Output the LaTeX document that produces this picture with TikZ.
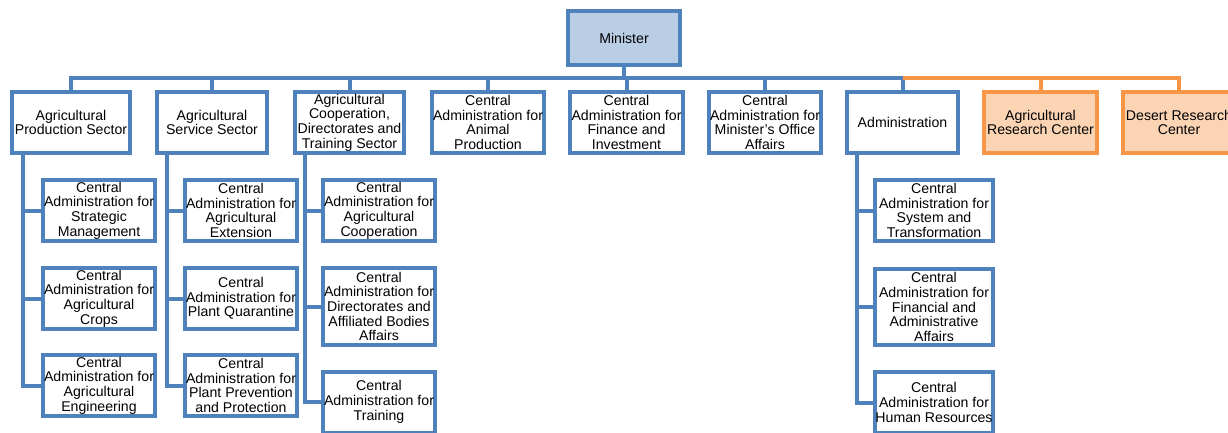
\documentclass[tikz,border=0pt]{standalone}
\usepackage{fontspec}
\setmainfont{Liberation Sans}
\definecolor{orgblue}{RGB}{79,129,189}
\definecolor{orgfill}{RGB}{185,205,229}
\definecolor{orgorange}{RGB}{247,150,70}
\definecolor{orgpeach}{RGB}{251,212,180}
\tikzset{
  unit/.style={draw=orgblue, line width=3pt, fill=white, align=center, inner sep=0pt,
    font=\fontsize{10.6}{11}\selectfont, minimum height=45.75pt},
  subunit/.style={unit, minimum width=84pt},
  center/.style={unit, draw=orgorange, fill=orgpeach},
  link/.style={draw=orgblue, line width=3pt},
  orangelink/.style={draw=orgorange, line width=3pt}
}
\begin{document}
\begin{tikzpicture}[x=0.75pt,y=-0.75pt]
\useasboundingbox (0,0) rectangle (1228,432);

\node[unit, fill=orgfill, minimum width=84pt, minimum height=40.5pt] (minister) at (624,38) {Minister};

\node[unit, minimum width=88.5pt] (prod) at (71,122.5) {Agricultural\\Production Sector};
\node[unit, minimum width=82.5pt] (serv) at (212,122.5) {Agricultural\\Service Sector};
\node[unit, minimum width=81.75pt] (coop) at (349.5,122.5) {Agricultural\\Cooperation,\\Directorates and\\Training Sector};
\node[unit, minimum width=84pt] (animal) at (488,122.5) {Central\\Administration for\\Animal\\Production};
\node[unit, minimum width=84.75pt] (finance) at (626.5,122.5) {Central\\Administration for\\Finance and\\Investment};
\node[unit, minimum width=84pt] (office) at (765,122.5) {Central\\Administration for\\Minister's Office\\Affairs};
\node[unit, minimum width=83.25pt] (admin) at (902.5,122.5) {Administration};
\node[center, minimum width=84.75pt] (arc) at (1040.5,122.5) {Agricultural\\Research Center};
\node[center, minimum width=84pt] (desert) at (1179,122.5) {Desert Research\\Center};

\node[subunit] (strat) at (99,210.5) {Central\\Administration for\\Strategic\\Management};
\node[subunit] (crops) at (99,298.5) {Central\\Administration for\\Agricultural\\Crops};
\node[subunit] (engin) at (99,385.5) {Central\\Administration for\\Agricultural\\Engineering};

\node[subunit] (ext) at (241,210.5) {Central\\Administration for\\Agricultural\\Extension};
\node[subunit] (quar) at (241,298.5) {Central\\Administration for\\Plant Quarantine};
\node[subunit] (prot) at (241,385.5) {Central\\Administration for\\Plant Prevention\\and Protection};

\node[subunit] (agcoop) at (379,210.5) {Central\\Administration for\\Agricultural\\Cooperation};
\node[subunit, minimum height=57.75pt] (direct) at (379,306.5) {Central\\Administration for\\Directorates and\\Affiliated Bodies\\Affairs};
\node[subunit] (train) at (379,402) {Central\\Administration for\\Training};

\node[subunit, minimum width=88.5pt] (system) at (934,210.5) {Central\\Administration for\\System and\\Transformation};
\node[subunit, minimum width=88.5pt, minimum height=57pt] (finadm) at (934,307) {Central\\Administration for\\Financial and\\Administrative\\Affairs};
\node[subunit, minimum width=88.5pt] (human) at (934,402.5) {Central\\Administration for\\Human Resources};

\coordinate (bus) at (624,78);
\draw[link] (minister.south) -- (bus);
\draw[link] (prod.north) |- (bus) -| (admin.north);
\draw[link] (serv.north) -- (serv.north |- bus);
\draw[link] (coop.north) -- (coop.north |- bus);
\draw[link] (animal.north) -- (animal.north |- bus);
\draw[link] (finance.north) -- (finance.north |- bus);
\draw[link] (office.north) -- (office.north |- bus);
\draw[orangelink] (admin.north |- bus) -| (desert.north);
\draw[orangelink] (arc.north) -- (arc.north |- bus);

\draw[link] ([xshift=-36pt]prod.south) |- (strat.west);
\draw[link] ([xshift=-36pt]prod.south) |- (crops.west);
\draw[link] ([xshift=-36pt]prod.south) |- (engin.west);

\draw[link] ([xshift=-33.75pt]serv.south) |- (ext.west);
\draw[link] ([xshift=-33.75pt]serv.south) |- (quar.west);
\draw[link] ([xshift=-33.75pt]serv.south) |- (prot.west);

\draw[link] ([xshift=-33.4pt]coop.south) |- (agcoop.west);
\draw[link] ([xshift=-33.4pt]coop.south) |- (direct.west);
\draw[link] ([xshift=-33.4pt]coop.south) |- (train.west);

\draw[link] ([xshift=-34.1pt]admin.south) |- (system.west);
\draw[link] ([xshift=-34.1pt]admin.south) |- (finadm.west);
\draw[link] ([xshift=-34.1pt]admin.south) |- (human.west);
\end{tikzpicture}
\end{document}
